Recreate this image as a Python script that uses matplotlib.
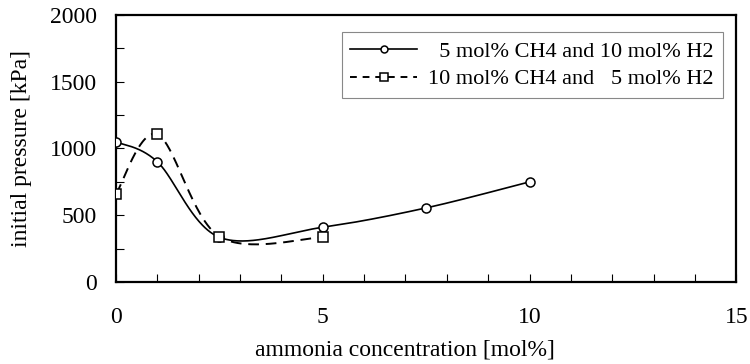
import numpy as np
import matplotlib
matplotlib.use("Agg")
import matplotlib.pyplot as plt
from matplotlib.ticker import MultipleLocator

plt.rcParams['font.family'] = 'serif'
plt.rcParams['font.serif'] = ['Liberation Serif']

# ammonia concentration [mol%] and initial pressure [kPa]
x_ch4_5 = [0, 1, 2.5, 5, 7.5, 10]
p_ch4_5 = [1050, 900, 335, 410, 555, 750]

x_ch4_10 = [0, 1, 2.5, 5]
p_ch4_10 = [660, 1105, 340, 335]

label_ch4_5 = "  5 mol% CH4 and 10 mol% H2"
label_ch4_10 = "10 mol% CH4 and   5 mol% H2"

FS = 17


def smooth(xs, ys, n=60):
    """Bezier smoothing through the points (spreadsheet-style smoothed line)."""
    P = np.column_stack([xs, ys]).astype(float)
    m = len(P)
    out = []
    for i in range(m - 1):
        p0 = P[i - 1] if i > 0 else P[i]
        p1 = P[i]
        p2 = P[i + 1]
        p3 = P[i + 2] if i + 2 < m else P[i + 1]
        c1 = p1 + (p2 - p0) / 6.0
        c2 = p2 - (p3 - p1) / 6.0
        t = np.linspace(0, 1, n)[:, None]
        seg = ((1 - t) ** 3) * p1 + 3 * ((1 - t) ** 2) * t * c1 \
            + 3 * (1 - t) * t ** 2 * c2 + t ** 3 * p2
        out.append(seg if i == 0 else seg[1:])
    c = np.vstack(out)
    return c[:, 0], c[:, 1]


fig = plt.figure(figsize=(7.5, 3.64), dpi=100)
ax = fig.add_axes([0.1547, 0.2253, 0.827, 0.7335])

sx, sy = smooth(x_ch4_5, p_ch4_5)
ax.plot(sx, sy, color='black', lw=1.2, zorder=2)
ax.plot(x_ch4_5, p_ch4_5, linestyle='none', marker='o', ms=6.5,
        mfc='white', mec='black', mew=1.1, zorder=3)

dx, dy = smooth(x_ch4_10, p_ch4_10)
ax.plot(dx, dy, color='black', lw=1.4, dashes=(5.5, 3.5), zorder=2)
ax.plot(x_ch4_10, p_ch4_10, linestyle='none', marker='s', ms=6.5,
        mfc='white', mec='black', mew=1.1, zorder=4)

# legend proxies
h1, = ax.plot([], [], color='black', lw=1.2, marker='o', ms=5,
              mfc='white', mec='black', mew=1.1)
h2, = ax.plot([], [], color='black', lw=1.4, dashes=(3.5, 3), marker='s', ms=6,
              mfc='white', mec='black', mew=1.1)
leg = ax.legend([h1, h2], [label_ch4_5, label_ch4_10], loc='upper right',
                bbox_to_anchor=(0.978, 0.935),
                prop={'family': 'Liberation Serif', 'size': 16},
                frameon=True, fancybox=False, edgecolor='#888888',
                framealpha=1, handlelength=3.0, handletextpad=0.5,
                borderpad=0.4, labelspacing=0.32, borderaxespad=0.0)
leg.get_frame().set_linewidth(0.8)

ax.set_xlim(0, 15)
ax.set_ylim(0, 2000)
ax.xaxis.set_major_locator(MultipleLocator(5))
ax.xaxis.set_minor_locator(MultipleLocator(1))
ax.yaxis.set_major_locator(MultipleLocator(500))
ax.yaxis.set_minor_locator(MultipleLocator(250))
ax.tick_params(axis='both', which='both', direction='in',
               top=False, right=False, length=6, width=0.8)
ax.tick_params(axis='both', which='major', labelsize=FS)
ax.tick_params(axis='x', which='major', pad=18)
ax.tick_params(axis='y', which='major', pad=14)
for lab in ax.get_xticklabels() + ax.get_yticklabels():
    lab.set_family('Liberation Serif')
for s in ax.spines.values():
    s.set_linewidth(1.6)

ax.set_xlabel('ammonia concentration [mol%]', fontsize=FS,
              family='Liberation Serif')
ax.xaxis.set_label_coords(0.465, -0.215)
ax.set_ylabel('initial pressure [kPa]', fontsize=FS,
              family='Liberation Serif')
ax.yaxis.set_label_coords(-0.135, 0.5)

fig.savefig('out.png', dpi=100)
